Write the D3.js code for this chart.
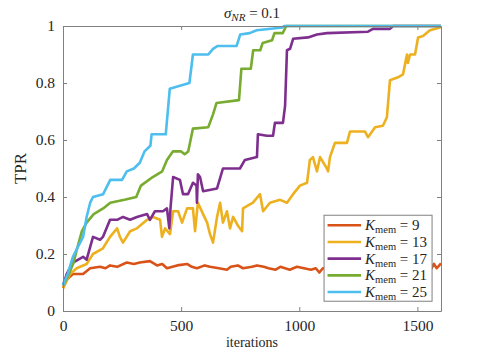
<!DOCTYPE html>
<html>
<head>
<meta charset="utf-8">
<script src="https://cdn.jsdelivr.net/npm/d3@7"></script>
<style>
  body { margin: 0; background: #fff; }
  svg text { font-family: "Liberation Serif", "DejaVu Serif", serif; fill: #262626; }
</style>
</head>
<body>
<div id="canvas"></div>
<script>
// values: [iteration, TPR]
const k9 = [[0,0.08],[16,0.11],[42,0.13],[85,0.13],[115,0.15],[157,0.155],[180,0.15],[199,0.16],[229,0.155],[270,0.17],[300,0.165],[325,0.17],[368,0.175],[398,0.16],[420,0.165],[440,0.15],[483,0.16],[525,0.165],[545,0.155],[567,0.15],[600,0.16],[622,0.155],[660,0.15],[694,0.145],[710,0.155],[740,0.16],[762,0.15],[800,0.155],[821,0.16],[850,0.155],[870,0.15],[900,0.145],[920,0.155],[960,0.145],[990,0.155],[1020,0.15],[1050,0.145],[1070,0.15],[1085,0.135],[1100,0.15],[1150,0.15],[1560,0.15],[1570,0.165],[1582,0.15],[1600,0.167]];
const k13 = [[0,0.08],[30,0.13],[58,0.15],[100,0.165],[127,0.20],[169,0.22],[199,0.26],[229,0.29],[241,0.26],[254,0.24],[284,0.28],[313,0.29],[356,0.32],[381,0.33],[411,0.32],[419,0.26],[432,0.29],[453,0.27],[466,0.35],[487,0.35],[504,0.31],[525,0.36],[550,0.36],[559,0.28],[571,0.38],[593,0.34],[610,0.31],[622,0.27],[635,0.24],[652,0.33],[665,0.38],[677,0.31],[694,0.35],[707,0.29],[720,0.33],[740,0.30],[758,0.28],[762,0.36],[804,0.38],[834,0.41],[847,0.35],[876,0.38],[919,0.39],[948,0.38],[974,0.41],[1003,0.44],[1033,0.45],[1045,0.53],[1058,0.54],[1075,0.49],[1088,0.54],[1117,0.50],[1122,0.49],[1130,0.54],[1151,0.59],[1202,0.59],[1215,0.63],[1278,0.63],[1291,0.61],[1321,0.645],[1354,0.65],[1371,0.68],[1384,0.81],[1418,0.82],[1439,0.83],[1456,0.90],[1460,0.87],[1469,0.90],[1490,0.90],[1503,0.96],[1524,0.965],[1553,0.985],[1596,0.995],[1600,1.0]];
const k17 = [[0,0.09],[16,0.13],[42,0.17],[85,0.19],[100,0.18],[127,0.26],[157,0.25],[169,0.26],[199,0.32],[229,0.32],[254,0.33],[284,0.32],[313,0.33],[356,0.34],[368,0.32],[389,0.35],[423,0.35],[440,0.36],[450,0.29],[455,0.36],[466,0.47],[495,0.46],[508,0.41],[529,0.41],[550,0.45],[565,0.44],[567,0.38],[571,0.48],[580,0.47],[593,0.42],[652,0.43],[677,0.50],[749,0.50],[770,0.53],[821,0.54],[825,0.62],[863,0.615],[889,0.615],[897,0.66],[931,0.66],[940,0.72],[948,0.915],[961,0.92],[974,0.955],[1037,0.96],[1075,0.97],[1117,0.975],[1291,0.98],[1312,0.99],[1384,0.99],[1397,1.0],[1600,1.0]];
const k21 = [[0,0.09],[20,0.12],[45,0.17],[60,0.22],[80,0.28],[100,0.31],[130,0.34],[170,0.36],[200,0.38],[260,0.39],[310,0.40],[330,0.44],[380,0.47],[420,0.49],[440,0.53],[465,0.56],[500,0.56],[515,0.55],[530,0.56],[550,0.64],[615,0.645],[635,0.69],[650,0.73],[745,0.74],[755,0.85],[795,0.85],[805,0.915],[835,0.915],[845,0.94],[885,0.95],[895,0.975],[930,0.975],[945,1.0],[1600,1.0]];
const k25 = [[0,0.09],[20,0.13],[42,0.19],[60,0.22],[85,0.26],[100,0.33],[115,0.38],[127,0.40],[170,0.41],[200,0.46],[250,0.46],[270,0.49],[300,0.50],[325,0.52],[345,0.56],[370,0.58],[375,0.62],[435,0.62],[452,0.78],[495,0.79],[535,0.80],[550,0.90],[615,0.90],[635,0.92],[655,0.93],[735,0.93],[750,0.97],[790,0.975],[820,0.985],[930,0.995],[935,1.0],[1600,1.0]];

const names = ["9", "13", "17", "21", "25"];
const series = [k9, k13, k17, k21, k25];
const colors = ["#D95319", "#EDB120", "#7E2F8E", "#77AC30", "#4DBEEE"];
const xTicks = [0, 500, 1000, 1500];
const yTicks = [0, 0.2, 0.4, 0.6, 0.8, 1];

const width = 479;
const height = 353;
const margin = { top: 26, left: 63, bottom: 42, right: 38 };
const iwidth = width - margin.left - margin.right;
const iheight = height - margin.top - margin.bottom;
const serif = '"Liberation Serif", "DejaVu Serif", serif';

const svg = d3.select("#canvas").append("svg")
    .attr("width", width)
    .attr("height", height);

const g = svg.append("g").attr("transform", `translate(${margin.left},${margin.top})`);

const x = d3.scaleLinear().domain([0, 1600]).range([0, iwidth]);
const y = d3.scaleLinear().domain([0, 1]).range([iheight, 0]);

const line = d3.line().x(d => x(d[0])).y(d => y(d[1]));

// lines first, axes box on top
series.forEach((s, i) => {
    g.append("path")
        .datum(s)
        .attr("fill", "none")
        .attr("stroke", colors[i])
        .attr("stroke-width", 2.6)
        .attr("stroke-linejoin", "round")
        .attr("d", line);
});

const tickLen = 4;
const styleAxis = sel => {
    sel.attr("font-family", serif);
    sel.select(".domain").attr("stroke", "#808080");
    sel.selectAll(".tick line").attr("stroke", "#808080");
    sel.selectAll(".tick text")
        .style("font-family", serif)
        .style("font-size", "15.5px")
        .attr("fill", "#262626");
};

g.append("g")
    .attr("transform", `translate(0,${iheight})`)
    .call(d3.axisBottom(x).tickValues(xTicks).tickSizeInner(-tickLen).tickSizeOuter(0).tickPadding(9).tickFormat(d3.format("d")))
    .call(styleAxis);

g.append("g")
    .call(d3.axisTop(x).tickValues(xTicks).tickSizeInner(-tickLen).tickSizeOuter(0).tickFormat(""))
    .call(styleAxis);

g.append("g")
    .call(d3.axisLeft(y).tickValues(yTicks).tickSizeInner(-tickLen).tickSizeOuter(0).tickPadding(8).tickFormat(d3.format("~g")))
    .call(styleAxis);

g.append("g")
    .attr("transform", `translate(${iwidth},0)`)
    .call(d3.axisRight(y).tickValues(yTicks).tickSizeInner(-tickLen).tickSizeOuter(0).tickFormat(""))
    .call(styleAxis);

// title
const title = g.append("text")
    .attr("text-anchor", "middle")
    .attr("x", iwidth / 2)
    .attr("y", -8)
    .style("font-size", "15px");
title.append("tspan").style("font-style", "italic").text("σ");
title.append("tspan").style("font-style", "italic").style("font-size", "11px").attr("dy", 3).text("NR");
title.append("tspan").attr("dy", -3).text(" = 0.1");

g.append("text")
    .attr("text-anchor", "middle")
    .style("font-size", "14px")
    .attr("x", iwidth / 2)
    .attr("y", iheight + 36)
    .text("iterations");

g.append("text")
    .attr("text-anchor", "middle")
    .style("font-size", "17px")
    .attr("transform", `translate(-37,${iheight / 2}) rotate(-90)`)
    .text("TPR");

// legend
const lg = g.append("g").attr("transform", `translate(${x(1105)},${y(0.336)})`);
lg.append("rect")
    .attr("width", 108)
    .attr("height", 86)
    .attr("fill", "#fff")
    .attr("stroke", "#808080");

names.forEach((n, i) => {
    const row = lg.append("g").attr("transform", `translate(0,${10 + i * 16.7})`);
    row.append("line")
        .attr("x1", 3.5).attr("x2", 37)
        .attr("stroke", colors[i])
        .attr("stroke-width", 2.6);
    const t = row.append("text")
        .attr("x", 41)
        .attr("y", 5)
        .style("font-size", "15px");
    t.append("tspan").style("font-style", "italic").text("K");
    t.append("tspan").style("font-size", "10.5px").attr("dy", 3).text("mem");
    t.append("tspan").attr("dy", -3).text(" = " + n);
});
</script>
</body>
</html>
